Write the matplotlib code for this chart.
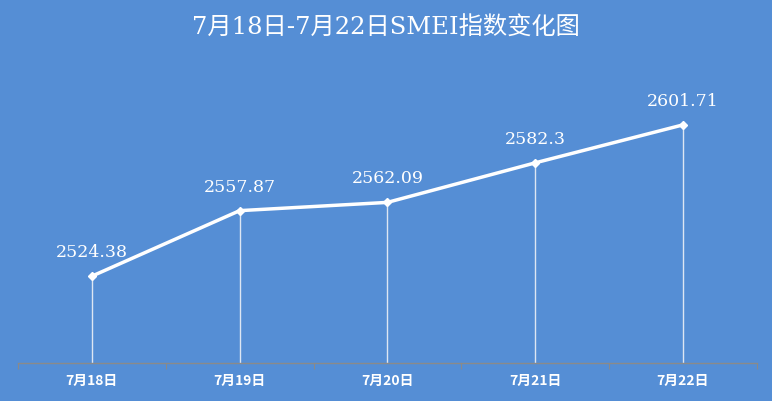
import matplotlib.pyplot as plt

plt.rcParams['font.family'] = ['DejaVu Serif', 'Noto Sans CJK SC', 'DejaVu Sans']

# 数据
dates = ['7月18日', '7月19日', '7月20日', '7月21日', '7月22日']
values = [2524.38, 2557.87, 2562.09, 2582.3, 2601.71]
labels = ['2524.38', '2557.87', '2562.09', '2582.3', '2601.71']

bg = '#558ed5'
fig = plt.figure(figsize=(7.72, 4.01), dpi=100, facecolor=bg)
ax = fig.add_axes([0.0233, 0.0948, 0.957, 0.683], facecolor=bg)

x = list(range(len(dates)))

# 垂直线
ax.vlines(x, 2480, values, color='#dde6f3', linewidth=1, zorder=1)

# 折线
ax.plot(x, values, color='white', linewidth=2.5, marker='D', markersize=4.5, zorder=3)

for xi, v, lab in zip(x, values, labels):
    ax.annotate(lab, (xi, v), xytext=(0, 17), textcoords='offset points',
                ha='center', va='center', color='white', fontsize=12.5)

ax.set_xlim(-0.5, 4.5)
ax.set_ylim(2480, 2620)
ax.set_yticks([])
ax.set_xticks([i - 0.5 for i in range(len(dates) + 1)])
ax.set_xticklabels([])
ax.set_xticks(x, minor=True)
ax.set_xticklabels(dates, minor=True, color='white', fontsize=10, fontweight='bold',
                   family=['Noto Sans CJK SC', 'DejaVu Sans'])
ax.tick_params(axis='x', which='major', length=4, color='#8a8a8a', direction='out')
ax.tick_params(axis='x', which='minor', length=0, pad=8)

for s in ['top', 'left', 'right']:
    ax.spines[s].set_visible(False)
ax.spines['bottom'].set_color('#8a8a8a')
ax.spines['bottom'].set_linewidth(1)

fig.text(0.5, 0.93, '7月18日-7月22日SMEI指数变化图', ha='center', va='center',
         color='white', fontsize=17.5)

fig.savefig('out.png', dpi=100, facecolor=bg)
